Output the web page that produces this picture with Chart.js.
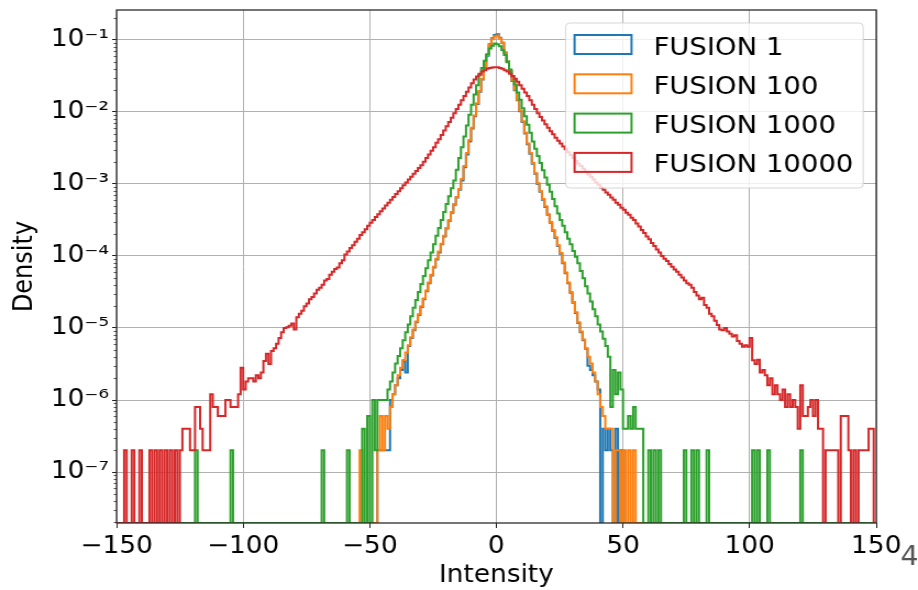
<!DOCTYPE html>
<html>
<head>
<meta charset="utf-8">
<title>FUSION intensity histograms</title>
<script src="https://cdn.jsdelivr.net/npm/chart.js@4.4.1/dist/chart.umd.min.js"></script>
<style>
  html, body { margin: 0; padding: 0; background: #fff; }
</style>
</head>
<body>
<!-- figure is drawn 835 wide and shown stretched to 918 -->
<canvas id="hist" width="835" height="590" style="display:block;width:918px;height:590px"></canvas>
<script>
// 1-wide bins on [-150, 150)
const binLow = -150;
const binHigh = 150;
const binWidth = 1;

const seriesLabels = ['FUSION 1', 'FUSION 100', 'FUSION 1000', 'FUSION 10000'];
const seriesColors = ['#1f77b4', '#ff7f0e', '#2ca02c', '#d62728'];

const xTickValues = [-150, -100, -50, 0, 50, 100, 150];
const xTickLabels = ['\u2212150', '\u2212100', '\u221250', '0', '50', '100', '150'];
const yTickValues = [1e-7, 1e-6, 1e-5, 1e-4, 1e-3, 1e-2, 1e-1];
const yTickLabels = ['10\u207B\u2077', '10\u207B\u2076', '10\u207B\u2075', '10\u207B\u2074', '10\u207B\u00B3', '10\u207B\u00B2', '10\u207B\u00B9'];
const yMin = 1.96e-8;
const yMax = 0.26;
const cornerText = '4';

// FUSION 1 densities, first bin at -50
const fusion1Start = -50;
const fusion1 = [
  0, 0, 0, 2e-7, 2e-7, 2e-7, 2e-7, 2e-7, 1.0e-6, 1.2e-6,
  1.6e-6, 2.0e-6, 2.6e-6, 3.47e-6, 2.4e-6, 5.62e-6, 7.24e-6, 9.33e-6, 1.20e-5, 1.51e-5,
  1.95e-5, 2.51e-5, 3.24e-5, 4.17e-5, 5.37e-5, 6.92e-5, 8.91e-5, 1.12e-4, 1.45e-4, 1.86e-4,
  2.40e-4, 3.09e-4, 3.98e-4, 5.13e-4, 6.46e-4, 8.32e-4, 1.12e-3, 1.70e-3, 2.57e-3, 3.89e-3,
  5.89e-3, 8.71e-3, 1.29e-2, 1.91e-2, 2.82e-2, 4.17e-2, 6.03e-2, 8.71e-2, 1.05e-1, 1.17e-1,
  1.20e-1, 1.07e-1, 9.12e-2, 6.61e-2, 4.90e-2, 3.63e-2, 2.69e-2, 2.00e-2, 1.45e-2, 1.02e-2,
  7.24e-3, 5.01e-3, 3.55e-3, 2.63e-3, 1.91e-3, 1.38e-3, 1.00e-3, 7.76e-4, 6.03e-4, 4.79e-4,
  3.72e-4, 2.88e-4, 2.24e-4, 1.78e-4, 1.38e-4, 1.07e-4, 7.94e-5, 5.75e-5, 4.17e-5, 3.09e-5,
  2.24e-5, 1.62e-5, 1.17e-5, 8.71e-6, 6.76e-6, 5.13e-6, 3.0e-6, 2.6e-6, 2.2e-6, 1.8e-6,
  1.4e-6, 0, 4e-7, 2e-7, 4e-7, 2e-7, 0, 4e-7, 0, 2e-7,
  0
];

// FUSION 100 densities, first bin at -54
const fusion100Start = -54;
const fusion100 = [
  2e-7, 0, 0, 0, 0, 0, 0, 2e-7, 6e-7, 2e-7,
  6e-7, 4e-7, 8e-7, 1.2e-6, 1.6e-6, 2.2e-6, 2.8e-6, 3.6e-6, 4.57e-6, 5.75e-6,
  7.41e-6, 9.55e-6, 1.23e-5, 1.55e-5, 2.00e-5, 2.57e-5, 3.31e-5, 4.27e-5, 5.50e-5, 7.08e-5,
  9.12e-5, 1.15e-4, 1.48e-4, 1.91e-4, 2.45e-4, 3.16e-4, 4.07e-4, 5.25e-4, 6.61e-4, 8.51e-4,
  1.17e-3, 1.78e-3, 2.69e-3, 4.07e-3, 6.03e-3, 8.91e-3, 1.32e-2, 1.95e-2, 2.88e-2, 4.27e-2,
  6.17e-2, 8.51e-2, 1.02e-1, 1.12e-1, 1.15e-1, 1.05e-1, 9.12e-2, 6.76e-2, 5.01e-2, 3.72e-2,
  2.75e-2, 2.04e-2, 1.48e-2, 1.05e-2, 7.41e-3, 5.13e-3, 3.63e-3, 2.69e-3, 1.95e-3, 1.41e-3,
  1.02e-3, 7.94e-4, 6.17e-4, 4.90e-4, 3.80e-4, 2.95e-4, 2.29e-4, 1.82e-4, 1.41e-4, 1.10e-4,
  8.13e-5, 5.89e-5, 4.27e-5, 3.16e-5, 2.29e-5, 1.66e-5, 1.20e-5, 8.91e-6, 6.92e-6, 5.25e-6,
  4.0e-6, 3.2e-6, 2.4e-6, 1.8e-6, 1.2e-6, 8e-7, 6e-7, 4e-7, 4e-7, 4e-7,
  0, 2e-7, 2e-7, 0, 2e-7, 0, 2e-7, 0, 2e-7, 0
];

// FUSION 1000 densities, first bin at -54, plus lone counts further out
const fusion1000Start = -54;
const fusion1000 = [
  0, 4e-7, 0, 6e-7, 0, 1e-6, 2e-7, 1e-6, 1e-6, 1e-6,
  1e-6, 1.4e-6, 1.8e-6, 2.4e-6, 3.2e-6, 4.07e-6, 5.25e-6, 6.76e-6, 8.71e-6, 1.12e-5,
  1.45e-5, 1.91e-5, 2.45e-5, 3.16e-5, 4.07e-5, 5.25e-5, 6.76e-5, 8.71e-5, 1.12e-4, 1.45e-4,
  1.91e-4, 2.45e-4, 3.16e-4, 4.07e-4, 5.25e-4, 6.76e-4, 8.71e-4, 1.12e-3, 1.58e-3, 2.29e-3,
  3.24e-3, 4.57e-3, 6.46e-3, 9.12e-3, 1.26e-2, 1.74e-2, 2.34e-2, 3.24e-2, 4.07e-2, 5.13e-2,
  6.31e-2, 7.59e-2, 8.32e-2, 8.91e-2, 8.71e-2, 8.13e-2, 7.24e-2, 6.17e-2, 5.01e-2, 3.89e-2,
  3.09e-2, 2.40e-2, 1.86e-2, 1.48e-2, 1.12e-2, 8.71e-3, 6.61e-3, 5.13e-3, 3.89e-3, 3.09e-3,
  2.45e-3, 1.95e-3, 1.55e-3, 1.23e-3, 9.77e-4, 7.76e-4, 6.17e-4, 4.90e-4, 3.89e-4, 3.16e-4,
  2.63e-4, 2.14e-4, 1.74e-4, 1.45e-4, 1.17e-4, 9.77e-5, 7.94e-5, 6.17e-5, 4.90e-5, 3.80e-5,
  3.02e-5, 2.34e-5, 1.82e-5, 1.45e-5, 1.12e-5, 8.91e-6, 7.08e-6, 5.62e-6, 4.0e-6, 8e-7,
  2.6e-6, 1.2e-6, 2.4e-6, 1.4e-6, 4e-7, 4e-7, 6e-7, 4e-7, 8e-7, 4e-7,
  4e-7, 4e-7
];
const fusion1000Strays = [
  [-119, 2e-7], [-105, 2e-7], [-69, 2e-7], [-59, 2e-7], [60, 2e-7], [62, 2e-7], [64, 2e-7],
  [74, 2e-7], [77, 2e-7], [79, 2e-7], [83, 2e-7], [101, 2e-7], [103, 2e-7], [107, 2e-7], [120, 2e-7]
];

// FUSION 10000 densities, every bin from -150
const fusion10000Start = -150;
const fusion10000 = [
  0, 0, 0, 2e-7, 0, 0, 2e-7, 0, 0, 2e-7,
  0, 0, 0, 2e-7, 0, 2e-7, 0, 2e-7, 0, 2e-7,
  0, 2e-7, 0, 2e-7, 0, 2e-7, 4e-7, 4e-7, 4e-7, 2e-7,
  2e-7, 8e-7, 8e-7, 4e-7, 2e-7, 2e-7, 2e-7, 1.2e-6, 8e-7, 8e-7,
  6e-7, 6e-7, 6e-7, 1e-6, 1e-6, 8e-7, 8e-7, 8e-7, 1.2e-6, 2.8e-6,
  1.4e-6, 1.8e-6, 2.0e-6, 2.0e-6, 1.8e-6, 2.2e-6, 2.0e-6, 2.4e-6, 3.47e-6, 4.37e-6,
  3.16e-6, 4.79e-6, 5.25e-6, 6.03e-6, 7.24e-6, 8.71e-6, 1.00e-5, 1.02e-5, 1.07e-5, 1.15e-5,
  9.55e-6, 1.41e-5, 1.58e-5, 1.74e-5, 2.00e-5, 2.19e-5, 2.51e-5, 2.69e-5, 3.02e-5, 3.39e-5,
  3.63e-5, 3.98e-5, 4.57e-5, 4.79e-5, 5.50e-5, 6.03e-5, 6.61e-5, 6.92e-5, 7.94e-5, 8.71e-5,
  1.05e-4, 1.15e-4, 1.29e-4, 1.41e-4, 1.58e-4, 1.74e-4, 1.95e-4, 2.14e-4, 2.34e-4, 2.63e-4,
  2.88e-4, 3.16e-4, 3.47e-4, 3.80e-4, 4.17e-4, 4.57e-4, 5.01e-4, 5.50e-4, 6.03e-4, 6.61e-4,
  7.24e-4, 7.94e-4, 8.71e-4, 9.55e-4, 1.05e-3, 1.15e-3, 1.26e-3, 1.38e-3, 1.51e-3, 1.66e-3,
  1.82e-3, 2.04e-3, 2.29e-3, 2.57e-3, 2.88e-3, 3.24e-3, 3.72e-3, 4.17e-3, 4.79e-3, 5.50e-3,
  6.31e-3, 7.24e-3, 8.32e-3, 9.55e-3, 1.10e-2, 1.26e-2, 1.45e-2, 1.66e-2, 1.91e-2, 2.19e-2,
  2.51e-2, 2.82e-2, 3.09e-2, 3.39e-2, 3.63e-2, 3.80e-2, 3.98e-2, 4.07e-2, 4.12e-2, 4.17e-2,
  4.17e-2, 4.07e-2, 3.98e-2, 3.80e-2, 3.63e-2, 3.39e-2, 3.16e-2, 2.88e-2, 2.63e-2, 2.34e-2,
  2.09e-2, 1.86e-2, 1.66e-2, 1.45e-2, 1.26e-2, 1.10e-2, 9.55e-3, 8.51e-3, 7.59e-3, 6.76e-3,
  6.03e-3, 5.37e-3, 4.90e-3, 4.37e-3, 3.98e-3, 3.63e-3, 3.31e-3, 3.02e-3, 2.75e-3, 2.51e-3,
  2.29e-3, 2.09e-3, 1.91e-3, 1.78e-3, 1.62e-3, 1.48e-3, 1.35e-3, 1.26e-3, 1.15e-3, 1.05e-3,
  9.77e-4, 8.91e-4, 8.32e-4, 7.59e-4, 7.08e-4, 6.46e-4, 6.03e-4, 5.50e-4, 5.13e-4, 4.68e-4,
  4.37e-4, 3.98e-4, 3.72e-4, 3.39e-4, 3.16e-4, 2.82e-4, 2.57e-4, 2.29e-4, 2.09e-4, 1.86e-4,
  1.70e-4, 1.51e-4, 1.38e-4, 1.23e-4, 1.12e-4, 1.00e-4, 9.12e-5, 8.51e-5, 7.76e-5, 7.08e-5,
  6.46e-5, 6.03e-5, 5.50e-5, 5.01e-5, 4.57e-5, 4.17e-5, 3.98e-5, 3.63e-5, 3.16e-5, 2.82e-5,
  2.51e-5, 2.63e-5, 2.09e-5, 1.91e-5, 1.58e-5, 1.45e-5, 1.26e-5, 1.10e-5, 9.55e-6, 9.33e-6,
  1.00e-5, 8.91e-6, 8.32e-6, 7.59e-6, 7.94e-6, 6.61e-6, 6.03e-6, 5.50e-6, 5.75e-6, 5.50e-6,
  7.24e-6, 3.55e-6, 3.16e-6, 3.63e-6, 2.4e-6, 2.6e-6, 2.2e-6, 1.6e-6, 2.0e-6, 1.2e-6,
  1.6e-6, 1.2e-6, 1.0e-6, 1.4e-6, 8e-7, 1.2e-6, 8e-7, 1.0e-6, 8e-7, 4e-7,
  1.6e-6, 6e-7, 6e-7, 8e-7, 1.0e-6, 6e-7, 1.0e-6, 4e-7, 4e-7, 0,
  2e-7, 2e-7, 2e-7, 2e-7, 2e-7, 0, 6e-7, 6e-7, 6e-7, 2e-7,
  0, 2e-7, 0, 2e-7, 2e-7, 2e-7, 2e-7, 4e-7, 4e-7, 0
];

// place a run of bins into the full range; empty bins stay 0
function fullRange(start, values, extra) {
  const out = new Array((binHigh - binLow) / binWidth).fill(0);
  values.forEach((v, i) => { out[(start - binLow) / binWidth + i] = v; });
  (extra || []).forEach(([bin, v]) => { out[(bin - binLow) / binWidth] = v; });
  return out;
}

// outline of a step histogram: up from the axis floor at the first edge, back down at the last.
// empty bins cannot sit on a log axis, so they are drawn on its floor
function stepOutline(densities) {
  const floor = (d) => (d > 0 ? d : yMin);
  const pts = [{x: binLow, y: yMin}];
  densities.forEach((d, i) => pts.push({x: binLow + i * binWidth, y: floor(d)}));
  pts.push({x: binHigh, y: floor(densities[densities.length - 1])}, {x: binHigh, y: yMin});
  return pts;
}

const seriesDensities = [
  fullRange(fusion1Start, fusion1),
  fullRange(fusion100Start, fusion100),
  fullRange(fusion1000Start, fusion1000, fusion1000Strays),
  fullRange(fusion10000Start, fusion10000)
];

// minor ticks on the log axis and the axes frame
const framePlugin = {
  id: 'frame',
  afterDatasetsDraw(chart) {
    const {ctx, chartArea: a, scales: {y}} = chart;
    ctx.save();
    ctx.strokeStyle = '#222';
    ctx.lineWidth = 0.8;
    for (let e = -8; e < 0; e++) {
      for (let m = 2; m < 10; m++) {
        const v = m * Math.pow(10, e);
        if (v <= y.min || v >= y.max) continue;
        const py = Math.round(y.getPixelForValue(v)) + 0.5;
        ctx.beginPath();
        ctx.moveTo(a.left - 2.5, py);
        ctx.lineTo(a.left, py);
        ctx.stroke();
      }
    }
    ctx.strokeStyle = '#2b2b2b';
    ctx.lineWidth = 1.3;
    ctx.strokeRect(a.left, a.top, a.right - a.left, a.bottom - a.top);
    ctx.restore();
  }
};

// legend box inside the top right corner
const boxLegendPlugin = {
  id: 'boxLegend',
  afterDraw(chart) {
    const {ctx, chartArea: a} = chart;
    const sets = chart.data.datasets;
    ctx.save();
    ctx.font = '25px "DejaVu Sans"';
    const textW = Math.max(...sets.map(s => ctx.measureText(s.label).width));
    const w = 80 + textW + 9;
    const h = 165;
    const left = a.right - 11.8 - w;
    const top = a.top + 13;
    ctx.beginPath();
    if (ctx.roundRect) ctx.roundRect(left, top, w, h, 4); else ctx.rect(left, top, w, h);
    ctx.fillStyle = 'rgba(255,255,255,0.8)';
    ctx.fill();
    ctx.strokeStyle = 'rgba(204,204,204,0.8)';
    ctx.lineWidth = 1;
    ctx.stroke();
    sets.forEach((s, i) => {
      const cy = top + 21.5 + i * 39.3;
      ctx.strokeStyle = s.borderColor;
      ctx.lineWidth = 2;
      ctx.strokeRect(left + 8.2, cy - 9.5, 51.8, 19);
      ctx.fillStyle = '#000';
      ctx.textBaseline = 'alphabetic';
      ctx.fillText(s.label, left + 80, cy + 10);
    });
    // stray figure label at the lower right corner
    ctx.font = '26px "DejaVu Sans"';
    ctx.fillStyle = '#555';
    ctx.fillText(cornerText, 819, 565);
    ctx.restore();
  }
};

Chart.defaults.font.family = '"DejaVu Sans", sans-serif';
Chart.defaults.color = '#000';

new Chart(document.getElementById('hist'), {
  type: 'line',
  data: {
    datasets: seriesLabels.map((label, i) => ({
      label: label,
      data: stepOutline(seriesDensities[i]),
      borderColor: seriesColors[i],
      backgroundColor: seriesColors[i],
      borderWidth: 2,
      stepped: 'before',
      fill: false,
      pointRadius: 0,
      tension: 0,
      order: seriesLabels.length - i
    }))
  },
  options: {
    responsive: false,
    animation: false,
    devicePixelRatio: 1,
    layout: { padding: { left: 0, right: 38, top: 10, bottom: 0 } },
    plugins: { legend: { display: false }, tooltip: { enabled: false } },
    scales: {
      x: {
        type: 'linear',
        min: binLow,
        max: binHigh,
        afterBuildTicks: (scale) => { scale.ticks = xTickValues.map(v => ({value: v})); },
        afterFit: (scale) => { scale.height = 67; scale.paddingLeft = 0; scale.paddingRight = 0; },
        ticks: {
          autoSkip: false,
          maxRotation: 0,
          padding: 4,
          font: { size: 24 },
          callback: (v) => xTickLabels[xTickValues.indexOf(v)]
        },
        grid: { color: '#b0b0b0', lineWidth: 1, tickColor: '#222', tickLength: 5, tickWidth: 1 },
        border: { display: false },
        title: { display: true, text: 'Intensity', font: { size: 24 }, padding: { top: 0, bottom: 0 } }
      },
      y: {
        type: 'logarithmic',
        min: yMin,
        max: yMax,
        afterBuildTicks: (scale) => { scale.ticks = yTickValues.map(v => ({value: v})); },
        afterFit: (scale) => { scale.width = 106; scale.paddingTop = 0; scale.paddingBottom = 0; },
        ticks: {
          autoSkip: false,
          padding: 3,
          font: { size: 24 },
          callback: (v) => yTickLabels[yTickValues.indexOf(v)]
        },
        grid: { color: '#b0b0b0', lineWidth: 1, tickColor: '#222', tickLength: 4, tickWidth: 1 },
        border: { display: false },
        title: { display: true, text: 'Density', font: { size: 24 }, padding: { top: 8, bottom: 0 } }
      }
    }
  },
  plugins: [framePlugin, boxLegendPlugin]
});
</script>
</body>
</html>
